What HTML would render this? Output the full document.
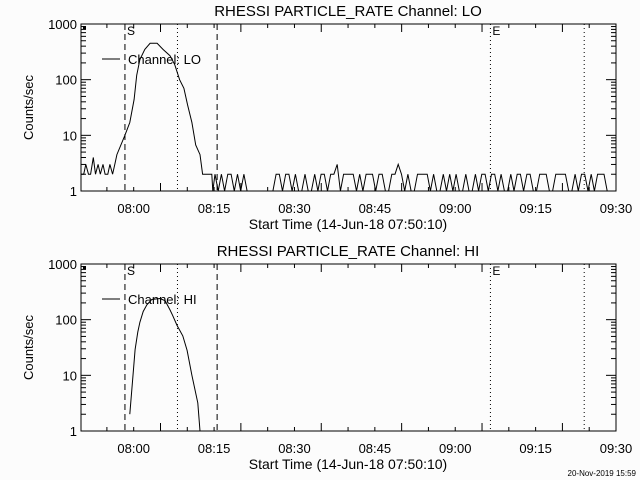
<!DOCTYPE html>
<html><head><meta charset="utf-8"><style>
html,body{margin:0;padding:0;background:#fcfcfc;}
svg{display:block;font-family:"Liberation Sans",sans-serif;}
</style></head><body>
<svg id="c" width="640" height="480" viewBox="0 0 640 480"></svg>
<script>
// minutes after 07:50:10
const xTickLabels = ["08:00","08:15","08:30","08:45","09:00","09:15","09:30"];
const xTickMinutes = [9.833,24.833,39.833,54.833,69.833,84.833,99.833];
const yTickLabels = ["1","10","100","1000"];
const yTickValues = [1,10,100,1000];
const markerMinutes = [8.2,18.0,25.4,76.4,93.9];
const markerStyles = ["dash","dot","dash","dot","dot"];
const loTimes = [0,0.5,0.9,1.4,1.8,2.3,2.7,3.2,3.6,4.1,4.5,5.0,5.4,5.9,6.3,6.7,8.2,9.1,9.9,10.4,11.0,11.9,12.9,14.2,15.3,16.6,17.5,18.4,19.2,19.9,20.7,21.4,22.2,22.7,24.4,24.6];
const loValues = [2,2,3,2,2,4,2,3,2,3,2,2,3,2,3,4.5,10,17,44,120,230,350,450,450,350,270,185,100,70,35,17,6.7,4.5,2,2,1];
const loNoiseStart = 25.0;
const loNoiseStep = 0.6;
const loNoise = [2,1,2,1,2,2,1,2,1,2,1,1,1,1,1,1,1,1,1,2,2,1,2,2,1,2,1,1,2,1,1,2,1,2,2,1,2,2,3,1,2,2,2,2,1,2,1,2,2,2,1,2,2,1,1,2,2,3,2,1,2,1,1,2,2,2,2,1,2,1,1,2,1,2,1,2,1,1,2,1,1,2,1,2,2,1,2,2,1,2,1,1,2,1,2,2,1,2,2,1,1,2,2,2,1,1,2,2,2,2,1,1,2,1,2,2,1,2,1,2,2,2,1,1,1];
const hiTimes = [9.1,9.7,10.1,10.6,11.0,11.6,12.3,13.2,14.7,15.7,16.6,17.1,17.9,19.0,19.8,20.7,21.8,22.2];
const hiValues = [2,10,29,60,90,140,185,230,240,220,150,120,80,51,28,10,3.2,1];

const NS="http://www.w3.org/2000/svg";
const svg=document.getElementById('c');
const X0=81,X1=616,XMAX=99.833;
function xs(m){return X0+(X1-X0)*m/XMAX;}
function mk(t,a,p){const e=document.createElementNS(NS,t);for(const k in a)e.setAttribute(k,a[k]);(p||svg).appendChild(e);return e;}

function panel(top,title,legend,times,values,name){
  const bot=top+167;
  const g=mk('g',{});
  
  
  const ys=v=>bot-(bot-top)*Math.log10(v)/3;
  let t=mk('text',{x:348,y:top-8,'text-anchor':'middle','font-size':15,fill:'#000'},g);t.textContent=title;
  
  let f=mk('rect',{x:X0,y:top,width:X1-X0,height:bot-top,fill:'none',stroke:'#000','stroke-width':1},g);
  
  // y ticks
  for(let d=0;d<3;d++)for(let k=1;k<10;k++){const v=Math.pow(10,d)*k;const y=ys(v);const L=k==1?10:5;
    mk('line',{x1:X0,y1:y,x2:X0+L,y2:y,stroke:'#000'},g);mk('line',{x1:X1,y1:y,x2:X1-L,y2:y,stroke:'#000'},g);}
  yTickValues.forEach((v,i)=>{const tt=mk('text',{x:X0-4,y:ys(v)+5,'text-anchor':'end','font-size':13},g);tt.textContent=yTickLabels[i];
    });
  // x ticks
  for(let m=-0.167;m<=XMAX+0.01;m+=5){const x=xs(m);if(x<X0)continue;const maj=Math.abs(((m+0.167)%15))<0.01;const L=maj?8:4;
    mk('line',{x1:x,y1:bot,x2:x,y2:bot-L,stroke:'#000'},g);mk('line',{x1:x,y1:top,x2:x,y2:top+L,stroke:'#000'},g);}
  xTickMinutes.forEach((m,i)=>{const tt=mk('text',{x:xs(m),y:bot+22,'text-anchor':'middle','font-size':13},g);tt.textContent=xTickLabels[i];
    });
  t=mk('text',{x:348,y:bot+38,'text-anchor':'middle','font-size':14},g);t.textContent='Start Time (14-Jun-18 07:50:10)';
  
  t=mk('text',{x:0,y:0,'text-anchor':'middle','font-size':13,transform:`translate(33,${(top+bot)/2}) rotate(-90)`},g);t.textContent='Counts/sec';
  
  // markers
  markerMinutes.forEach((m,i)=>{const l=mk('line',{x1:xs(m),y1:top,x2:xs(m),y2:bot,stroke:'#000','stroke-dasharray':markerStyles[i]=='dash'?'6,4':'1,3'},g);
    });
  t=mk('text',{x:xs(markerMinutes[0])+2,y:top+11,'font-size':12},g);t.textContent='S';
  
  t=mk('text',{x:xs(markerMinutes[3])+2,y:top+11,'font-size':12},g);t.textContent='E';
  
  mk('rect',{x:X0+2,y:top+2,width:3,height:3,fill:'#000'},g);
  // legend
  const lg=mk('g',{},g);
  mk('line',{x1:102,y1:top+35,x2:120,y2:top+35,stroke:'#000'},lg);
  t=mk('text',{x:128,y:top+40,'font-size':13},lg);t.textContent=legend;
  // series
  const pts=times.map((m,i)=>xs(m).toFixed(1)+','+ys(Math.max(1,values[i])).toFixed(1)).join(' ');
  const pl=mk('polyline',{points:pts,fill:'none',stroke:'#000','stroke-width':1},g);
  
}
const loT=loTimes.slice(),loV=loValues.slice();
loNoise.forEach((v,i)=>{loT.push(loNoiseStart+i*loNoiseStep);loV.push(v);});
panel(24,'RHESSI PARTICLE_RATE Channel: LO','Channel: LO',loT,loV,'lo');
panel(264,'RHESSI PARTICLE_RATE Channel: HI','Channel: HI',hiTimes,hiValues,'hi');
const ft=mk('text',{x:636,y:476,'text-anchor':'end','font-size':8});ft.textContent='20-Nov-2019 15:59';


</script>
</body></html>
